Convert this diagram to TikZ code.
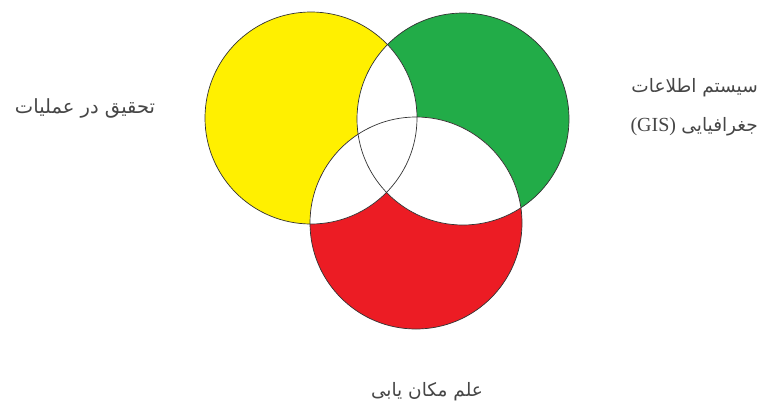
\documentclass[tikz,border=0pt]{standalone}
\usepackage{fontspec}
\setmainfont{Liberation Serif}
\newfontfamily\arabicfont[Script=Arabic]{DejaVu Sans}
\TeXXeTstate=1
\usepackage{tikz}
\usetikzlibrary{positioning}

\definecolor{setyellow}{RGB}{255,240,0}
\definecolor{setgreen}{RGB}{34,172,72}
\definecolor{setred}{RGB}{236,28,36}
\definecolor{labelgray}{RGB}{70,70,70}

\tikzset{
  setline/.style={draw=black!80, line width=0.7pt},
  setlabel/.style={font=\arabicfont\fontsize{18.5}{22}\selectfont, text=labelgray, inner sep=0pt},
}

\begin{document}
\begin{tikzpicture}[x=1pt, y=-1pt]

\useasboundingbox (0,0) rectangle (770,413);

% --- Centres ---
\coordinate (yc) at (311,118);
\coordinate (gc) at (463,119);
\coordinate (rc) at (416,223);
\def\rad{106}

% --- Set fills ---
\fill[setyellow] (yc) circle (\rad);
\fill[setgreen] (gc) circle (\rad);
\fill[setred] (rc) circle (\rad);

% Overlaps are left white
\begin{scope}
  \clip (yc) circle (\rad);
  \fill[white] (gc) circle (\rad);
  \fill[white] (rc) circle (\rad);
\end{scope}
\begin{scope}
  \clip (gc) circle (\rad);
  \fill[white] (rc) circle (\rad);
\end{scope}

% --- Outlines ---
\draw[setline] (yc) circle (\rad);
\draw[setline] (gc) circle (\rad);
\draw[setline] (rc) circle (\rad);

% --- Labels ---
\node[setlabel, font=\arabicfont\fontsize{19.5}{22}\selectfont] (oplabel) at (85,108) {\beginR تحقیق در عملیات\endR};
\node[setlabel, anchor=east] (gislabel1) at (758,88) {\beginR سیستم اطلاعات\endR};
\node[setlabel, anchor=east] (gislabel2) at (758,127) {\beginR جغرافیایی\endR};
\node[setlabel, font=\rmfamily\fontsize{20}{22}\selectfont, left=5pt of gislabel2] (gisabbr) {(GIS)};
\node[setlabel] (loclabel) at (427,392) {\beginR علم مکان یابی\endR};

\end{tikzpicture}
\end{document}
